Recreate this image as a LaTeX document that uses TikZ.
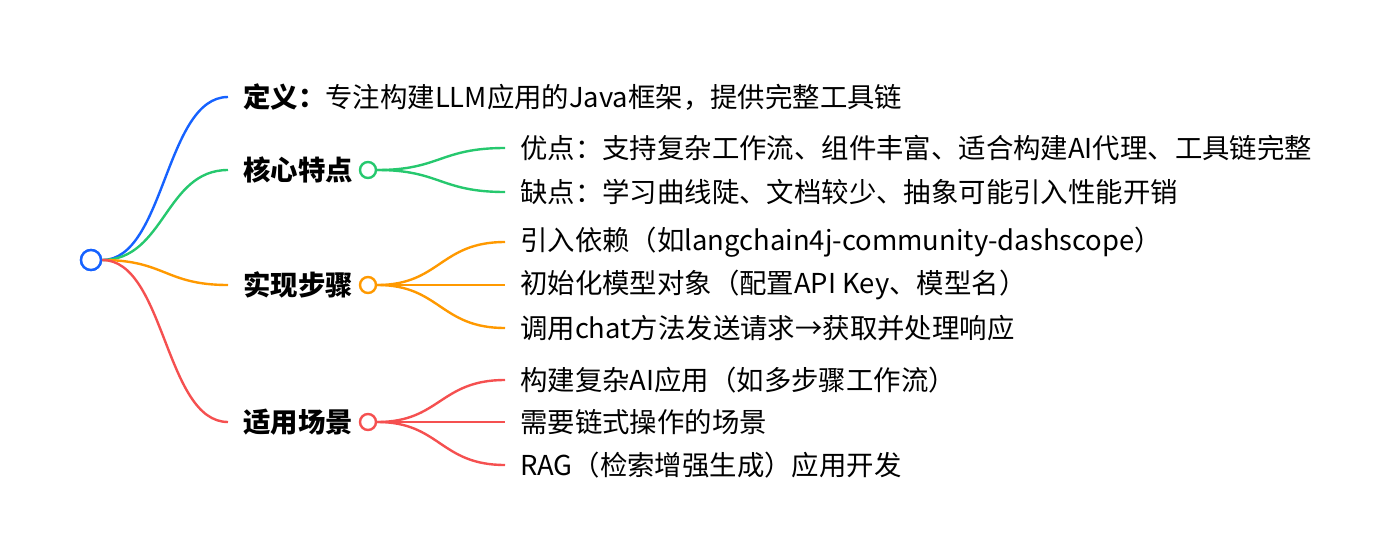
\documentclass[tikz,border=0pt]{standalone}
\usepackage{fontspec}
\setmainfont{Noto Sans CJK SC}
\usetikzlibrary{positioning}
\definecolor{mblue}{RGB}{22,98,255}
\definecolor{mgreen}{RGB}{38,200,110}
\definecolor{morange}{RGB}{255,153,0}
\definecolor{mred}{RGB}{245,80,80}

\begin{document}
\begin{tikzpicture}[x=1pt, y=-1pt,
    link/.style={line width=2.4pt},
    dot/.style={circle, draw=#1, line width=2.4pt, fill=white, inner sep=0pt, minimum size=16pt},
    key/.style={anchor=west, inner sep=0pt, font=\bfseries\fontsize{27.4}{32}\selectfont},
    leaf/.style={anchor=west, inner sep=0pt, font=\fontsize{27.4}{32}\selectfont}]
    \useasboundingbox (0,0) rectangle (1386,554);

    % root
    \node[dot=mblue, minimum size=20pt] (root) at (91,260) {};

    % definition
    \node[key] (def) at (243,97) {定义：\mdseries 专注构建LLM应用的Java框架，提供完整工具链};
    \draw[link, mblue] (root.east) .. controls (165,260) and (165,97) .. ([xshift=-15pt]def.west);

    % features
    \node[key] (feat) at (243,170) {核心特点};
    \node[dot=mgreen] (featdot) at (368,170) {};
    \node[leaf] (pro) at (520,148) {优点：支持复杂工作流、组件丰富、适合构建AI代理、工具链完整};
    \node[leaf] (con) at (520,192) {缺点：学习曲线陡、文档较少、抽象可能引入性能开销};
    \draw[link, mgreen] (root.east) .. controls (165,260) and (165,170) .. ([xshift=-15pt]feat.west);
    \foreach \k/\y in {pro/148, con/192} {
        \draw[link, mgreen] (featdot.east) .. controls (440,170) and (440,\y) .. ([xshift=-15pt]\k.west);
    }

    % steps
    \node[key] (step1) at (243,285) {实现步骤};
    \node[dot=morange] (stepdot) at (368,285) {};
    \node[leaf] (dep) at (520,242) {引入依赖（如langchain4j-community-dashscope）};
    \node[leaf] (init) at (520,285) {初始化模型对象（配置API Key、模型名）};
    \node[leaf] (call) at (520,328) {调用chat方法发送请求→获取并处理响应};
    \draw[link, morange] (root.east) .. controls (165,260) and (165,285) .. ([xshift=-15pt]step1.west);
    \foreach \k/\y in {dep/242, init/285, call/328} {
        \draw[link, morange] (stepdot.east) .. controls (440,285) and (440,\y) .. ([xshift=-15pt]\k.west);
    }

    % scenes
    \node[key] (use) at (243,422) {适用场景};
    \node[dot=mred] (usedot) at (368,422) {};
    \node[leaf] (app) at (520,380) {构建复杂AI应用（如多步骤工作流）};
    \node[leaf] (chain) at (520,422) {需要链式操作的场景};
    \node[leaf] (rag) at (520,465) {RAG（检索增强生成）应用开发};
    \draw[link, mred] (root.east) .. controls (165,260) and (165,422) .. ([xshift=-15pt]use.west);
    \foreach \k/\y in {app/380, chain/422, rag/465} {
        \draw[link, mred] (usedot.east) .. controls (440,422) and (440,\y) .. ([xshift=-15pt]\k.west);
    }

    % root on top
    \node[dot=mblue, minimum size=20pt] at (root) {};
\end{tikzpicture}
\end{document}
